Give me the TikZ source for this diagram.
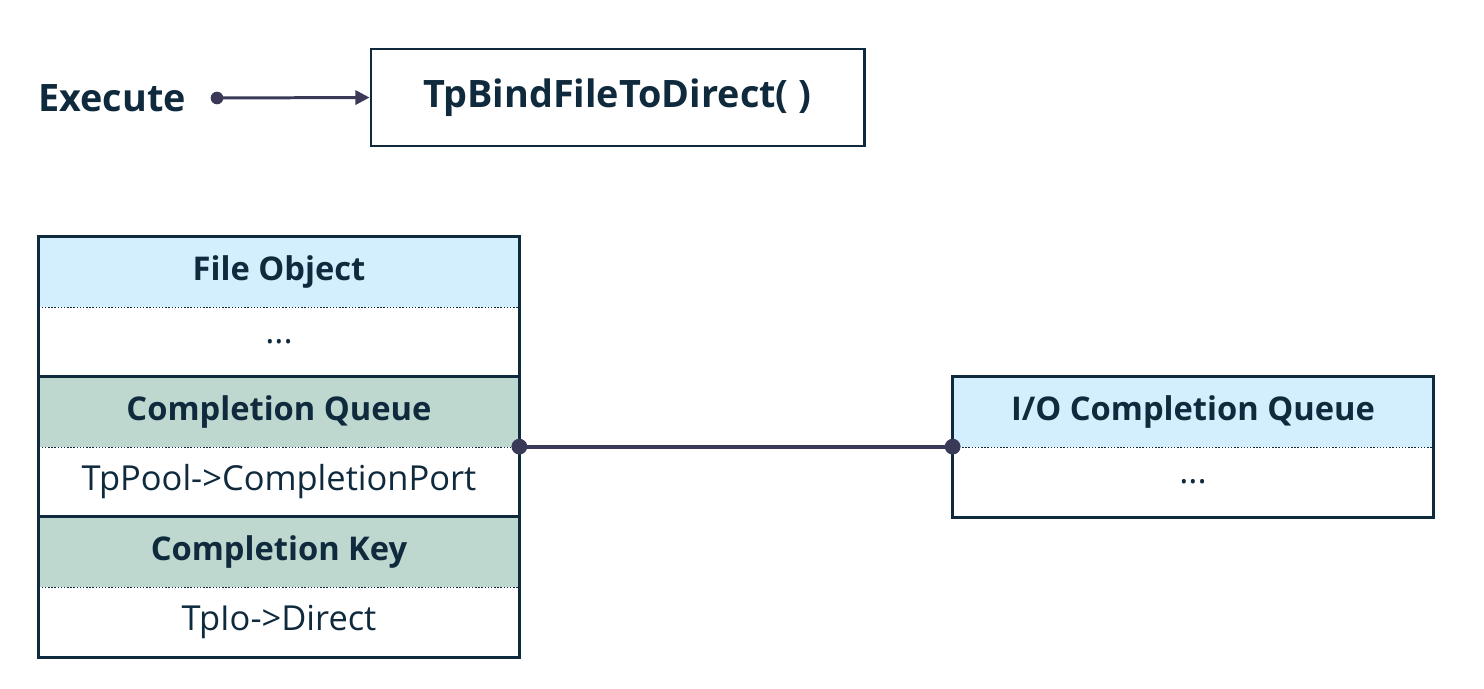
\documentclass[tikz,border=0pt]{standalone}
\usepackage{fontspec}
\setmainfont{Open Sans}
\usetikzlibrary{arrows.meta}

\definecolor{ink}{HTML}{0F2A3D}
\definecolor{wire}{HTML}{3A3A58}
\definecolor{hdrblue}{HTML}{D3EEFC}
\definecolor{hdrgreen}{HTML}{BED8D0}

\tikzset{
  cell/.style={minimum width=9.6cm,minimum height=1.4cm,inner sep=0pt,text=ink,font=\fontsize{19.6}{22}\selectfont},
  head/.style={cell,font=\fontsize{18.6}{22}\selectfont\bfseries},
  title/.style={text=ink,font=\fontsize{21.5}{24}\selectfont\bfseries},
  frame/.style={draw=ink,line width=1.7pt},
  sep/.style={draw=ink,densely dotted,line width=0.8pt},
}

\begin{document}
\begin{tikzpicture}
\useasboundingbox (0,0) rectangle (29.68,13.76);

\node[title] (exec) at (2.24,11.8) {Execute};
\coordinate (go) at (4.34,11.8);
\node[frame,title,minimum width=9.86cm,minimum height=1.94cm] (bind) at (12.35,11.81) {TpBindFileToDirect( )};
\draw[wire,line width=1.7pt,-{Triangle[length=8pt,width=8pt]}] (go) -- (bind.west);
\fill[wire] (go) circle (3.6pt);

\node[head,fill=hdrblue] (fobj) at (5.58,8.32) {File Object};
\node[cell] (fobjval) at (5.58,6.92) {...};
\node[head,fill=hdrgreen] (cq) at (5.58,5.52) {Completion Queue};
\node[cell] (cqval) at (5.58,4.12) {TpPool->CompletionPort};
\node[head,fill=hdrgreen] (ck) at (5.58,2.72) {Completion Key};
\node[cell] (ckval) at (5.58,1.32) {TpIo->Direct};

\draw[sep] (fobj.south west) -- (fobj.south east);
\draw[sep] (cq.south west) -- (cq.south east);
\draw[sep] (ck.south west) -- (ck.south east);
\draw[frame] (cq.north west) -- (cq.north east);
\draw[frame] (ck.north west) -- (ck.north east);
\draw[frame] (fobj.north west) rectangle (ckval.south east);

\node[head,fill=hdrblue] (ioq) at (23.86,5.52) {I/O Completion Queue};
\node[cell] (ioqval) at (23.86,4.12) {...};
\draw[sep] (ioq.south west) -- (ioq.south east);
\draw[frame] (ioq.north west) rectangle (ioqval.south east);

\draw[wire,line width=2.3pt] (cqval.north east) -- (ioqval.north west);
\fill[wire] (cqval.north east) circle (4.5pt);
\fill[wire] (ioqval.north west) circle (4.5pt);

\end{tikzpicture}
\end{document}
